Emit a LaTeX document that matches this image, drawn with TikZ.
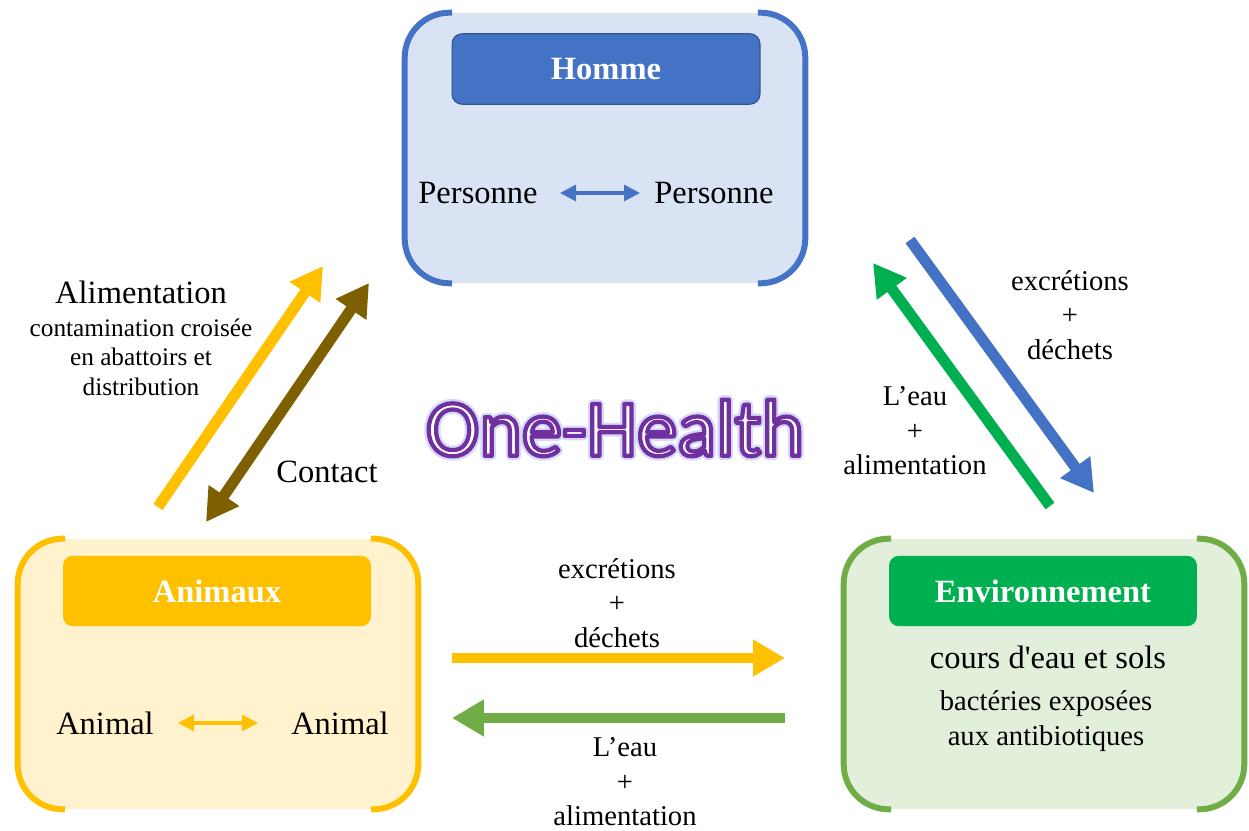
\documentclass[tikz,border=0pt]{standalone}
\usepackage{fontspec}
\setmainfont{Liberation Serif}[Ligatures=TeXOff]
\newfontfamily\ohfont{Carlito}
\usetikzlibrary{arrows.meta, positioning}

\definecolor{hblue}{HTML}{4472C4}
\definecolor{hfill}{HTML}{DAE3F3}
\definecolor{hdark}{HTML}{2F5597}
\definecolor{ayellow}{HTML}{FFC000}
\definecolor{afill}{HTML}{FFF2CC}
\definecolor{egreen}{HTML}{00B050}
\definecolor{eline}{HTML}{70AD47}
\definecolor{efill}{HTML}{E2EFDA}
\definecolor{cbrown}{HTML}{7F6000}

% outlined text: light halo, then white letters with a purple edge
\newcommand{\outlinetext}[1]{%
  \rlap{\special{pdf:literal direct 1 Tr 1 j 5 w 0.84 0.85 0.97 RG}#1\special{pdf:literal direct 0 Tr}}%
  \textcolor{white}{\special{pdf:literal direct 2 Tr 1 j 2.4 w 0.439 0.188 0.627 RG}#1\special{pdf:literal direct 0 Tr}}}

\begin{document}
\begin{tikzpicture}[
  x=0.02cm, y=-0.02cm,
  zone/.style={
    rounded corners=0.9cm,
    minimum width=8cm,
    minimum height=5.4cm,
    inner sep=0pt
  },
  bracket/.style={line width=3.4pt, rounded corners=0.9cm},
  titlebox/.style={
    rounded corners=0.2cm,
    minimum width=6.16cm,
    minimum height=1.41cm,
    text=white,
    font=\fontsize{18.5}{22}\selectfont\bfseries
  },
  big/.style={-{Triangle[length=0.64cm, width=0.7cm]}, line width=0.22cm},
  bigboth/.style={{Triangle[length=0.64cm, width=0.7cm]}-{Triangle[length=0.64cm, width=0.7cm]}, line width=0.22cm},
  small/.style={{Triangle[length=0.32cm, width=0.32cm]}-{Triangle[length=0.32cm, width=0.32cm]}, line width=1.8pt},
  txt/.style={font=\fontsize{18.5}{22}\selectfont},
  lbl/.style={align=center, font=\fontsize{16.3}{19.6}\selectfont}
]
\useasboundingbox (0,0) rectangle (1249,831);

% Zones
\node[zone, fill=hfill] (homme) at (605,148) {};
\node[zone, fill=afill] (animaux) at (218,674) {};
\node[zone, fill=efill] (env) at (1044,674) {};

% Brackets
\foreach \z/\c in {homme/hblue, animaux/ayellow, env/eline}{
  \draw[bracket, \c] ([xshift=0.95cm]\z.north west) -- (\z.north west) -- (\z.south west) -- ([xshift=0.95cm]\z.south west);
  \draw[bracket, \c] ([xshift=-0.95cm]\z.north east) -- (\z.north east) -- (\z.south east) -- ([xshift=-0.95cm]\z.south east);
}

% Titles
\node[titlebox, fill=hblue, draw=hdark, line width=0.6pt] (hommeT) at (606,69) {Homme};
\node[titlebox, fill=ayellow] (animauxT) at (217,591) {Animaux};
\node[titlebox, fill=egreen] (envT) at (1043,591) {Environnement};

% Inside the zones
\node[txt] (pers1) at (478,193) {Personne};
\node[txt] (pers2) at (714,193) {Personne};
\coordinate (p1) at (560,193);
\coordinate (p2) at (640,193);
\draw[small, hblue] (p1) -- (p2);

\node[txt] (anim1) at (105,723) {Animal};
\node[txt] (anim2) at (340,723) {Animal};
\coordinate (a1) at (178,723);
\coordinate (a2) at (258,723);
\draw[small, ayellow] (a1) -- (a2);

\node[txt] (cours) at (1048,657) {cours d'eau et sols};
\node[lbl] (bact) at (1046,721) {bactéries exposées\\aux antibiotiques};

% One-Health
\node (oh) at (615,428) {\ohfont\fontsize{46}{52}\selectfont\outlinetext{One-Health}};

% Arrows
\coordinate (alimS) at (158,507);
\coordinate (alimE) at (323,266);
\coordinate (contA) at (206,522);
\coordinate (contB) at (369,283);
\coordinate (excS) at (910,240);
\coordinate (excE) at (1094,493);
\coordinate (eauS) at (1050,506);
\coordinate (eauE) at (873,263);
\coordinate (hexS) at (452,658);
\coordinate (hexE) at (785,658);
\coordinate (heauS) at (785,718);
\coordinate (heauE) at (452,718);

\draw[big, ayellow] (alimS) -- (alimE);
\draw[bigboth, cbrown] (contA) -- (contB);
\draw[big, hblue] (excS) -- (excE);
\draw[big, egreen] (eauS) -- (eauE);
\draw[big, ayellow] (hexS) -- (hexE);
\draw[big, eline] (heauS) -- (heauE);

% Labels
\node[txt] (alim) at (141,292) {Alimentation};
\node[align=center, font=\fontsize{14.4}{16.8}\selectfont] (alimSub) at (141,357) {contamination croisée\\en abattoirs et\\distribution};
\node[txt] (contact) at (327,472) {Contact};
\node[lbl] (excL) at (1070,315) {excrétions\\+\\déchets};
\node[lbl] (eauL) at (915,431) {L’eau\\+\\alimentation};
\node[lbl] (hexL) at (617,603) {excrétions\\+\\déchets};
\node[lbl] (heauL) at (625,782) {L’eau\\+\\alimentation};

\end{tikzpicture}
\end{document}
